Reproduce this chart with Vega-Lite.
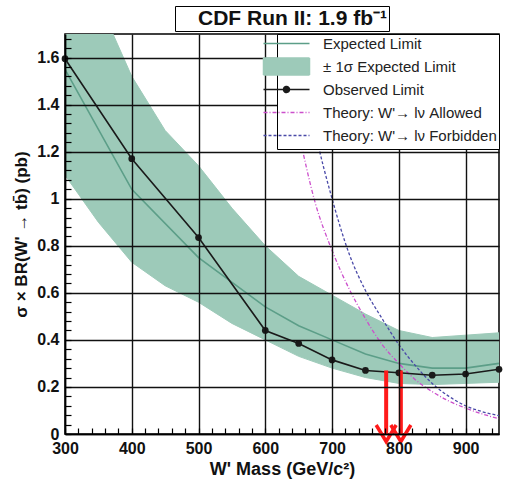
{
  "$schema": "https://vega.github.io/schema/vega-lite/v6.json",
  "width": 506,
  "height": 479,
  "autosize": {"type": "fit", "contains": "padding"},
  "padding": {"top": 5, "left": 12, "right": 3, "bottom": 1},
  "background": "white",
  "config": {
    "view": {"stroke": "black", "strokeWidth": 1.5},
    "font": "Liberation Sans",
    "legend": {"layout": {"top": {"anchor": "middle"}}}
  },
  "datasets": {
    "band": [
      {"series": "band", "m": 300, "lo": 1.10, "hi": 2.15},
      {"series": "band", "m": 350, "lo": 0.90, "hi": 1.84},
      {"series": "band", "m": 400, "lo": 0.73, "hi": 1.52},
      {"series": "band", "m": 450, "lo": 0.63, "hi": 1.29},
      {"series": "band", "m": 500, "lo": 0.56, "hi": 1.14},
      {"series": "band", "m": 550, "lo": 0.47, "hi": 0.96},
      {"series": "band", "m": 600, "lo": 0.40, "hi": 0.80},
      {"series": "band", "m": 650, "lo": 0.33, "hi": 0.67},
      {"series": "band", "m": 700, "lo": 0.28, "hi": 0.59},
      {"series": "band", "m": 750, "lo": 0.24, "hi": 0.51},
      {"series": "band", "m": 800, "lo": 0.215, "hi": 0.44},
      {"series": "band", "m": 850, "lo": 0.21, "hi": 0.41},
      {"series": "band", "m": 900, "lo": 0.215, "hi": 0.42},
      {"series": "band", "m": 950, "lo": 0.22, "hi": 0.43}
    ],
    "curves": [
      {"series": "exp", "m": 300, "v": 1.55},
      {"series": "exp", "m": 400, "v": 1.04},
      {"series": "exp", "m": 500, "v": 0.75},
      {"series": "exp", "m": 600, "v": 0.54},
      {"series": "exp", "m": 650, "v": 0.46},
      {"series": "exp", "m": 700, "v": 0.40},
      {"series": "exp", "m": 750, "v": 0.34},
      {"series": "exp", "m": 800, "v": 0.30},
      {"series": "exp", "m": 850, "v": 0.28},
      {"series": "exp", "m": 900, "v": 0.28},
      {"series": "exp", "m": 950, "v": 0.30},
      {"series": "obs", "m": 300, "v": 1.595},
      {"series": "obs", "m": 400, "v": 1.17},
      {"series": "obs", "m": 500, "v": 0.835},
      {"series": "obs", "m": 600, "v": 0.44},
      {"series": "obs", "m": 650, "v": 0.385},
      {"series": "obs", "m": 700, "v": 0.315},
      {"series": "obs", "m": 750, "v": 0.27},
      {"series": "obs", "m": 800, "v": 0.26},
      {"series": "obs", "m": 850, "v": 0.25},
      {"series": "obs", "m": 900, "v": 0.255},
      {"series": "obs", "m": 950, "v": 0.275},
      {"series": "allow", "m": 600, "v": 2.09},
      {"series": "allow", "m": 625, "v": 1.62},
      {"series": "allow", "m": 650, "v": 1.28},
      {"series": "allow", "m": 675, "v": 0.98},
      {"series": "allow", "m": 700, "v": 0.78},
      {"series": "allow", "m": 725, "v": 0.62},
      {"series": "allow", "m": 750, "v": 0.49},
      {"series": "allow", "m": 775, "v": 0.38},
      {"series": "allow", "m": 800, "v": 0.30},
      {"series": "allow", "m": 825, "v": 0.23},
      {"series": "allow", "m": 850, "v": 0.18},
      {"series": "allow", "m": 875, "v": 0.14},
      {"series": "allow", "m": 900, "v": 0.11},
      {"series": "allow", "m": 925, "v": 0.085},
      {"series": "allow", "m": 950, "v": 0.065},
      {"series": "forb", "m": 625, "v": 2.1},
      {"series": "forb", "m": 650, "v": 1.65},
      {"series": "forb", "m": 675, "v": 1.28},
      {"series": "forb", "m": 700, "v": 1.0},
      {"series": "forb", "m": 725, "v": 0.77},
      {"series": "forb", "m": 750, "v": 0.61},
      {"series": "forb", "m": 775, "v": 0.49},
      {"series": "forb", "m": 800, "v": 0.38},
      {"series": "forb", "m": 825, "v": 0.29},
      {"series": "forb", "m": 850, "v": 0.215},
      {"series": "forb", "m": 875, "v": 0.16},
      {"series": "forb", "m": 900, "v": 0.12},
      {"series": "forb", "m": 925, "v": 0.095},
      {"series": "forb", "m": 950, "v": 0.078}
    ],
    "arrows": [
      {"m": 781, "top": 0.27, "tip": 0},
      {"m": 803, "top": 0.27, "tip": 0}
    ]
  },
  "encoding": {
    "x": {
      "field": "m",
      "type": "quantitative",
      "scale": {"domain": [300, 950], "nice": false, "zero": false},
      "axis": {
        "title": "W' Mass (GeV/c²)",
        "titleFont": "Liberation Sans",
        "titleFontWeight": "bold",
        "titleFontSize": 18,
        "titleColor": "#111",
        "titlePadding": 4,
        "values": [300, 320, 340, 360, 380, 400, 420, 440, 460, 480, 500, 520, 540, 560, 580, 600, 620, 640, 660, 680, 700, 720, 740, 760, 780, 800, 820, 840, 860, 880, 900, 920, 940],
        "labelExpr": "datum.value % 100 === 0 ? datum.label : ''",
        "labelOverlap": false,
        "labelBound": false,
        "labelFlush": false,
        "labelFont": "Liberation Sans",
        "labelFontWeight": "bold",
        "labelFontSize": 16,
        "labelColor": "#111",
        "labelPadding": 12,
        "tickSize": -6,
        "tickColor": "black",
        "tickWidth": 1.2,
        "domainColor": "black",
        "domainWidth": 1.5,
        "gridColor": "#111",
        "gridWidth": 1.4,
        "gridOpacity": {"condition": {"test": "datum.value % 100 === 0", "value": 1}, "value": 0},
        "zindex": 1
      }
    },
    "y": {
      "type": "quantitative",
      "scale": {"domain": [0, 1.7], "nice": false, "zero": false},
      "axis": {
        "title": "σ × BR(W' → tb̄)  (pb)",
        "titleFont": "Liberation Sans",
        "titleFontWeight": "bold",
        "titleFontSize": 17,
        "titleColor": "#111",
        "titlePadding": 6,
        "values": [0, 0.04, 0.08, 0.12, 0.16, 0.2, 0.24, 0.28, 0.32, 0.36, 0.4, 0.44, 0.48, 0.52, 0.56, 0.6, 0.64, 0.68, 0.72, 0.76, 0.8, 0.84, 0.88, 0.92, 0.96, 1, 1.04, 1.08, 1.12, 1.16, 1.2, 1.24, 1.28, 1.32, 1.36, 1.4, 1.44, 1.48, 1.52, 1.56, 1.6, 1.64, 1.68],
        "labelExpr": "abs(datum.value * 5 - round(datum.value * 5)) < 0.001 ? format(datum.value, '.1~f') : ''",
        "labelOverlap": false,
        "labelBound": false,
        "labelFlush": false,
        "labelFont": "Liberation Sans",
        "labelFontWeight": "bold",
        "labelFontSize": 16,
        "labelColor": "#111",
        "labelPadding": 12,
        "tickSize": -6,
        "tickColor": "black",
        "tickWidth": 1.2,
        "domainColor": "black",
        "domainWidth": 1.5,
        "gridColor": "#111",
        "gridWidth": 1.4,
        "gridOpacity": {"condition": {"test": "abs(datum.value * 5 - round(datum.value * 5)) < 0.001", "value": 1}, "value": 0},
        "zindex": 1
      }
    }
  },
  "layer": [
    {
      "data": {"name": "band"},
      "mark": {"type": "area", "clip": true, "opacity": 1},
      "encoding": {
        "y": {"field": "hi", "type": "quantitative"},
        "y2": {"field": "lo"},
        "color": {
          "field": "series",
          "type": "nominal",
          "scale": {
            "domain": ["exp", "band", "obs", "allow", "forb"],
            "range": ["#5c9e88", "#9dcab9", "#1a1a1a", "#cc4fcc", "#4a4aa8"]
          },
          "legend": {
            "title": null,
            "orient": "top-right",
            "offset": 0,
            "fillColor": "white",
            "strokeColor": "black",
            "padding": 2,
            "zindex": 2,
            "symbolSize": 100,
            "symbolStrokeWidth": 1.5,
            "symbolOpacity": 1,
            "labelOffset": 29,
            "labelFont": "Liberation Sans",
            "labelFontSize": 15,
            "labelColor": "#222",
            "labelLimit": 320,
            "rowPadding": 0,
            "labelExpr": "{'exp': 'Expected Limit', 'band': '± 1σ Expected Limit', 'obs': 'Observed Limit', 'allow': \"Theory: W'→ lν Allowed\", 'forb': \"Theory: W'→ lν Forbidden\"}[datum.value] + '\u00a0\u00a0\u00a0'"
          }
        },
        "stroke": {
          "datum": "CDF Run II: 1.9 fb⁻¹",
          "type": "nominal",
          "scale": {"range": ["#9dcab9"]},
          "legend": {
            "title": null,
            "orient": "top",
            "offset": 3,
            "fillColor": "white",
            "strokeColor": "black",
            "padding": 2,
            "zindex": 2,
            "symbolSize": 0,
            "symbolOpacity": 0,
            "symbolStrokeWidth": 0,
            "labelOffset": 0,
            "labelFont": "Liberation Sans",
            "labelFontWeight": "bold",
            "labelFontSize": 21,
            "labelColor": "#111",
            "labelLimit": 400,
            "labelExpr": "'  ' + datum.label + '  '"
          }
        }
      }
    },
    {
      "data": {"name": "curves"},
      "transform": [{"filter": "datum.series === 'exp'"}],
      "mark": {"type": "line", "clip": true, "strokeWidth": 1.6},
      "encoding": {
        "y": {"field": "v", "type": "quantitative"},
        "color": {"field": "series", "type": "nominal"}
      }
    },
    {
      "data": {"name": "curves"},
      "transform": [{"filter": "datum.series === 'allow' || datum.series === 'forb'"}],
      "mark": {"type": "line", "clip": true, "strokeWidth": 1.3, "interpolate": "monotone"},
      "encoding": {
        "y": {"field": "v", "type": "quantitative"},
        "color": {"field": "series", "type": "nominal"},
        "strokeDash": {
          "field": "series",
          "type": "nominal",
          "scale": {
            "domain": ["exp", "band", "obs", "allow", "forb"],
            "range": [[1, 0], [1, 0], [1, 0], [4, 2, 1, 2], [3, 2]]
          }
        }
      }
    },
    {
      "data": {"name": "curves"},
      "transform": [{"filter": "datum.series === 'obs'"}],
      "mark": {"type": "line", "clip": true, "strokeWidth": 1.6},
      "encoding": {
        "y": {"field": "v", "type": "quantitative"},
        "color": {"field": "series", "type": "nominal"}
      }
    },
    {
      "data": {"name": "curves"},
      "transform": [{"filter": "datum.series === 'obs'"}],
      "mark": {"type": "point", "filled": true, "size": 45, "opacity": 1},
      "encoding": {
        "y": {"field": "v", "type": "quantitative"},
        "color": {"field": "series", "type": "nominal"}
      }
    },
    {
      "data": {"name": "curves"},
      "transform": [{"filter": "datum.v <= 1.7"}],
      "mark": {"type": "point", "filled": true, "size": 0, "opacity": 0, "clip": true},
      "encoding": {
        "y": {"field": "v", "type": "quantitative"},
        "color": {"field": "series", "type": "nominal"},
        "shape": {
          "field": "series",
          "type": "nominal",
          "scale": {
            "domain": ["exp", "band", "obs", "allow", "forb"],
            "range": [
              "M-5.8,-1.6M4.6,1.6M-4.6,0H4.6",
              "M-5.8,-1.6M4.6,1.6M-4.6,-1.7H4.6V1.7H-4.6Z",
              "M-5.8,-1.6M4.6,1.6M-4.6,0H4.6M-0.6,0A0.6,0.6,0,1,1,0.6,0A0.6,0.6,0,1,1,-0.6,0",
              "M-5.8,-1.6M4.6,1.6M-4.6,0H4.6",
              "M-5.8,-1.6M4.6,1.6M-4.6,0H4.6"
            ]
          }
        }
      }
    },
    {
      "data": {"name": "arrows"},
      "mark": {"type": "rule", "color": "#ff1a1a", "strokeWidth": 4},
      "encoding": {
        "y": {"field": "top", "type": "quantitative"},
        "y2": {"field": "tip"}
      }
    },
    {
      "data": {"name": "arrows"},
      "mark": {"type": "point", "shape": "M-1,-0.9L0,0.75L1,-0.9", "filled": false, "size": 400, "strokeWidth": 3.5, "color": "#ff1a1a", "opacity": 1},
      "encoding": {
        "y": {"field": "tip", "type": "quantitative"}
      }
    }
  ]
}
